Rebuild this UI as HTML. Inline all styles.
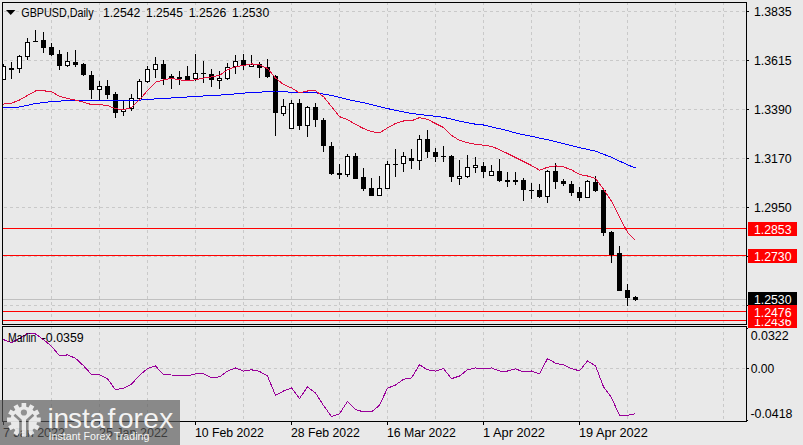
<!DOCTYPE html>
<html lang="en"><head><meta charset="utf-8"><title>GBPUSD Daily</title>
<style>
html,body{margin:0;padding:0;background:#e9e9e9;}
body{width:803px;height:445px;overflow:hidden;position:relative;}
svg{position:absolute;left:0;top:0;display:block;}
text{font-family:"Liberation Sans", sans-serif;}
</style></head><body>
<svg width="803" height="445" viewBox="0 0 803 445">
<rect x="0" y="0" width="803" height="445" fill="#e9e9e9"/>
<g shape-rendering="crispEdges" stroke="#c9c9c9" stroke-width="1" stroke-dasharray="3 3" fill="none">
<line x1="51.5" y1="3" x2="51.5" y2="324" stroke-dashoffset="1"/>
<line x1="51.5" y1="327" x2="51.5" y2="421" stroke-dashoffset="1"/>
<line x1="99.5" y1="3" x2="99.5" y2="324" stroke-dashoffset="1"/>
<line x1="99.5" y1="327" x2="99.5" y2="421" stroke-dashoffset="1"/>
<line x1="147.5" y1="3" x2="147.5" y2="324" stroke-dashoffset="1"/>
<line x1="147.5" y1="327" x2="147.5" y2="421" stroke-dashoffset="1"/>
<line x1="195.5" y1="3" x2="195.5" y2="324" stroke-dashoffset="1"/>
<line x1="195.5" y1="327" x2="195.5" y2="421" stroke-dashoffset="1"/>
<line x1="243.5" y1="3" x2="243.5" y2="324" stroke-dashoffset="1"/>
<line x1="243.5" y1="327" x2="243.5" y2="421" stroke-dashoffset="1"/>
<line x1="291.5" y1="3" x2="291.5" y2="324" stroke-dashoffset="1"/>
<line x1="291.5" y1="327" x2="291.5" y2="421" stroke-dashoffset="1"/>
<line x1="339.5" y1="3" x2="339.5" y2="324" stroke-dashoffset="1"/>
<line x1="339.5" y1="327" x2="339.5" y2="421" stroke-dashoffset="1"/>
<line x1="387.5" y1="3" x2="387.5" y2="324" stroke-dashoffset="1"/>
<line x1="387.5" y1="327" x2="387.5" y2="421" stroke-dashoffset="1"/>
<line x1="435.5" y1="3" x2="435.5" y2="324" stroke-dashoffset="1"/>
<line x1="435.5" y1="327" x2="435.5" y2="421" stroke-dashoffset="1"/>
<line x1="483.5" y1="3" x2="483.5" y2="324" stroke-dashoffset="1"/>
<line x1="483.5" y1="327" x2="483.5" y2="421" stroke-dashoffset="1"/>
<line x1="531.5" y1="3" x2="531.5" y2="324" stroke-dashoffset="1"/>
<line x1="531.5" y1="327" x2="531.5" y2="421" stroke-dashoffset="1"/>
<line x1="579.5" y1="3" x2="579.5" y2="324" stroke-dashoffset="1"/>
<line x1="579.5" y1="327" x2="579.5" y2="421" stroke-dashoffset="1"/>
<line x1="627.5" y1="3" x2="627.5" y2="324" stroke-dashoffset="1"/>
<line x1="627.5" y1="327" x2="627.5" y2="421" stroke-dashoffset="1"/>
<line x1="675.5" y1="3" x2="675.5" y2="324" stroke-dashoffset="1"/>
<line x1="675.5" y1="327" x2="675.5" y2="421" stroke-dashoffset="1"/>
<line x1="723.5" y1="3" x2="723.5" y2="324" stroke-dashoffset="1"/>
<line x1="723.5" y1="327" x2="723.5" y2="421" stroke-dashoffset="1"/>
<line x1="3" y1="11.5" x2="746" y2="11.5" stroke-dashoffset="5"/>
<line x1="3" y1="60.5" x2="746" y2="60.5" stroke-dashoffset="5"/>
<line x1="3" y1="109.5" x2="746" y2="109.5" stroke-dashoffset="5"/>
<line x1="3" y1="158.5" x2="746" y2="158.5" stroke-dashoffset="5"/>
<line x1="3" y1="207.5" x2="746" y2="207.5" stroke-dashoffset="5"/>
<line x1="3" y1="256.5" x2="746" y2="256.5" stroke-dashoffset="5"/>
<line x1="3" y1="305.5" x2="746" y2="305.5" stroke-dashoffset="5"/>
<line x1="3" y1="368.5" x2="746" y2="368.5" stroke-dashoffset="5"/>
</g>
<g shape-rendering="crispEdges">
<rect x="3" y="299" width="743" height="1" fill="#c0c0c0"/>
<rect x="3" y="228" width="743" height="1" fill="#ff0000"/>
<rect x="3" y="255" width="743" height="1" fill="#ff0000"/>
<rect x="3" y="311" width="743" height="1" fill="#ff0000"/>
<rect x="3" y="320" width="743" height="1" fill="#ff0000"/>
</g>
<clipPath id="cc"><rect x="3" y="3" width="743" height="321"/></clipPath>
<g shape-rendering="crispEdges" clip-path="url(#cc)">
<rect x="3" y="64" width="1" height="16" fill="#000"/>
<rect x="1" y="66" width="5" height="14" fill="#000"/>
<rect x="2" y="67" width="3" height="12" fill="#fff"/>
<rect x="11" y="62" width="1" height="17" fill="#000"/>
<rect x="9" y="68" width="5" height="2" fill="#000"/>
<rect x="19" y="55" width="1" height="18" fill="#000"/>
<rect x="17" y="56" width="5" height="13" fill="#000"/>
<rect x="18" y="57" width="3" height="11" fill="#fff"/>
<rect x="27" y="38" width="1" height="22" fill="#000"/>
<rect x="25" y="42" width="5" height="15" fill="#000"/>
<rect x="26" y="43" width="3" height="13" fill="#fff"/>
<rect x="35" y="30" width="1" height="12" fill="#000"/>
<rect x="33" y="41" width="5" height="1" fill="#000"/>
<rect x="43" y="32" width="1" height="21" fill="#000"/>
<rect x="41" y="40" width="5" height="8" fill="#000"/>
<rect x="51" y="43" width="1" height="13" fill="#000"/>
<rect x="49" y="47" width="5" height="8" fill="#000"/>
<rect x="59" y="50" width="1" height="20" fill="#000"/>
<rect x="57" y="54" width="5" height="12" fill="#000"/>
<rect x="67" y="52" width="1" height="15" fill="#000"/>
<rect x="65" y="61" width="5" height="5" fill="#000"/>
<rect x="66" y="62" width="3" height="3" fill="#fff"/>
<rect x="75" y="50" width="1" height="17" fill="#000"/>
<rect x="73" y="62" width="5" height="3" fill="#000"/>
<rect x="83" y="63" width="1" height="13" fill="#000"/>
<rect x="81" y="64" width="5" height="11" fill="#000"/>
<rect x="91" y="71" width="1" height="28" fill="#000"/>
<rect x="89" y="75" width="5" height="15" fill="#000"/>
<rect x="99" y="81" width="1" height="20" fill="#000"/>
<rect x="97" y="86" width="5" height="4" fill="#000"/>
<rect x="98" y="87" width="3" height="2" fill="#fff"/>
<rect x="107" y="80" width="1" height="19" fill="#000"/>
<rect x="105" y="86" width="5" height="9" fill="#000"/>
<rect x="115" y="92" width="1" height="26" fill="#000"/>
<rect x="113" y="94" width="5" height="19" fill="#000"/>
<rect x="123" y="101" width="1" height="15" fill="#000"/>
<rect x="121" y="109" width="5" height="3" fill="#000"/>
<rect x="122" y="110" width="3" height="1" fill="#fff"/>
<rect x="131" y="94" width="1" height="17" fill="#000"/>
<rect x="129" y="98" width="5" height="11" fill="#000"/>
<rect x="130" y="99" width="3" height="9" fill="#fff"/>
<rect x="139" y="79" width="1" height="21" fill="#000"/>
<rect x="137" y="81" width="5" height="18" fill="#000"/>
<rect x="138" y="82" width="3" height="16" fill="#fff"/>
<rect x="147" y="66" width="1" height="17" fill="#000"/>
<rect x="145" y="69" width="5" height="13" fill="#000"/>
<rect x="146" y="70" width="3" height="11" fill="#fff"/>
<rect x="155" y="57" width="1" height="21" fill="#000"/>
<rect x="153" y="64" width="5" height="6" fill="#000"/>
<rect x="154" y="65" width="3" height="4" fill="#fff"/>
<rect x="163" y="60" width="1" height="25" fill="#000"/>
<rect x="161" y="64" width="5" height="15" fill="#000"/>
<rect x="171" y="74" width="1" height="15" fill="#000"/>
<rect x="169" y="76" width="5" height="2" fill="#000"/>
<rect x="179" y="71" width="1" height="14" fill="#000"/>
<rect x="177" y="77" width="5" height="2" fill="#000"/>
<rect x="187" y="66" width="1" height="14" fill="#000"/>
<rect x="185" y="76" width="5" height="4" fill="#000"/>
<rect x="195" y="54" width="1" height="27" fill="#000"/>
<rect x="193" y="73" width="5" height="6" fill="#000"/>
<rect x="194" y="74" width="3" height="4" fill="#fff"/>
<rect x="203" y="61" width="1" height="22" fill="#000"/>
<rect x="201" y="73" width="5" height="1" fill="#000"/>
<rect x="211" y="69" width="1" height="18" fill="#000"/>
<rect x="209" y="74" width="5" height="6" fill="#000"/>
<rect x="219" y="71" width="1" height="18" fill="#000"/>
<rect x="217" y="78" width="5" height="3" fill="#000"/>
<rect x="218" y="79" width="3" height="1" fill="#fff"/>
<rect x="227" y="63" width="1" height="17" fill="#000"/>
<rect x="225" y="67" width="5" height="12" fill="#000"/>
<rect x="226" y="68" width="3" height="10" fill="#fff"/>
<rect x="235" y="55" width="1" height="19" fill="#000"/>
<rect x="233" y="61" width="5" height="6" fill="#000"/>
<rect x="234" y="62" width="3" height="4" fill="#fff"/>
<rect x="243" y="54" width="1" height="16" fill="#000"/>
<rect x="241" y="60" width="5" height="6" fill="#000"/>
<rect x="251" y="55" width="1" height="12" fill="#000"/>
<rect x="249" y="64" width="5" height="3" fill="#000"/>
<rect x="250" y="65" width="3" height="1" fill="#fff"/>
<rect x="259" y="62" width="1" height="16" fill="#000"/>
<rect x="257" y="64" width="5" height="4" fill="#000"/>
<rect x="267" y="59" width="1" height="19" fill="#000"/>
<rect x="265" y="67" width="5" height="10" fill="#000"/>
<rect x="275" y="75" width="1" height="61" fill="#000"/>
<rect x="273" y="76" width="5" height="37" fill="#000"/>
<rect x="283" y="99" width="1" height="17" fill="#000"/>
<rect x="281" y="106" width="5" height="8" fill="#000"/>
<rect x="282" y="107" width="3" height="6" fill="#fff"/>
<rect x="291" y="100" width="1" height="29" fill="#000"/>
<rect x="289" y="103" width="5" height="26" fill="#000"/>
<rect x="290" y="104" width="3" height="24" fill="#fff"/>
<rect x="299" y="99" width="1" height="31" fill="#000"/>
<rect x="297" y="103" width="5" height="23" fill="#000"/>
<rect x="307" y="106" width="1" height="31" fill="#000"/>
<rect x="305" y="107" width="5" height="19" fill="#000"/>
<rect x="306" y="108" width="3" height="17" fill="#fff"/>
<rect x="315" y="103" width="1" height="24" fill="#000"/>
<rect x="313" y="107" width="5" height="13" fill="#000"/>
<rect x="323" y="118" width="1" height="34" fill="#000"/>
<rect x="321" y="120" width="5" height="26" fill="#000"/>
<rect x="331" y="142" width="1" height="33" fill="#000"/>
<rect x="329" y="146" width="5" height="28" fill="#000"/>
<rect x="339" y="164" width="1" height="15" fill="#000"/>
<rect x="337" y="173" width="5" height="2" fill="#000"/>
<rect x="347" y="154" width="1" height="23" fill="#000"/>
<rect x="345" y="156" width="5" height="19" fill="#000"/>
<rect x="346" y="157" width="3" height="17" fill="#fff"/>
<rect x="355" y="153" width="1" height="26" fill="#000"/>
<rect x="353" y="156" width="5" height="23" fill="#000"/>
<rect x="363" y="168" width="1" height="23" fill="#000"/>
<rect x="361" y="177" width="5" height="12" fill="#000"/>
<rect x="371" y="178" width="1" height="18" fill="#000"/>
<rect x="369" y="188" width="5" height="8" fill="#000"/>
<rect x="379" y="176" width="1" height="20" fill="#000"/>
<rect x="377" y="188" width="5" height="8" fill="#000"/>
<rect x="378" y="189" width="3" height="6" fill="#fff"/>
<rect x="387" y="161" width="1" height="28" fill="#000"/>
<rect x="385" y="164" width="5" height="25" fill="#000"/>
<rect x="386" y="165" width="3" height="23" fill="#fff"/>
<rect x="395" y="149" width="1" height="28" fill="#000"/>
<rect x="393" y="164" width="5" height="1" fill="#000"/>
<rect x="403" y="152" width="1" height="20" fill="#000"/>
<rect x="401" y="156" width="5" height="8" fill="#000"/>
<rect x="402" y="157" width="3" height="6" fill="#fff"/>
<rect x="411" y="149" width="1" height="20" fill="#000"/>
<rect x="409" y="158" width="5" height="3" fill="#000"/>
<rect x="419" y="135" width="1" height="35" fill="#000"/>
<rect x="417" y="139" width="5" height="22" fill="#000"/>
<rect x="418" y="140" width="3" height="20" fill="#fff"/>
<rect x="427" y="130" width="1" height="28" fill="#000"/>
<rect x="425" y="139" width="5" height="13" fill="#000"/>
<rect x="435" y="148" width="1" height="14" fill="#000"/>
<rect x="433" y="152" width="5" height="5" fill="#000"/>
<rect x="443" y="146" width="1" height="16" fill="#000"/>
<rect x="441" y="156" width="5" height="1" fill="#000"/>
<rect x="451" y="155" width="1" height="27" fill="#000"/>
<rect x="449" y="156" width="5" height="21" fill="#000"/>
<rect x="459" y="160" width="1" height="25" fill="#000"/>
<rect x="457" y="176" width="5" height="3" fill="#000"/>
<rect x="458" y="177" width="3" height="1" fill="#fff"/>
<rect x="467" y="155" width="1" height="23" fill="#000"/>
<rect x="465" y="167" width="5" height="10" fill="#000"/>
<rect x="466" y="168" width="3" height="8" fill="#fff"/>
<rect x="475" y="157" width="1" height="16" fill="#000"/>
<rect x="473" y="165" width="5" height="3" fill="#000"/>
<rect x="474" y="166" width="3" height="1" fill="#fff"/>
<rect x="483" y="162" width="1" height="16" fill="#000"/>
<rect x="481" y="166" width="5" height="6" fill="#000"/>
<rect x="491" y="165" width="1" height="11" fill="#000"/>
<rect x="489" y="171" width="5" height="5" fill="#000"/>
<rect x="490" y="172" width="3" height="3" fill="#fff"/>
<rect x="499" y="159" width="1" height="23" fill="#000"/>
<rect x="497" y="171" width="5" height="10" fill="#000"/>
<rect x="507" y="172" width="1" height="15" fill="#000"/>
<rect x="505" y="180" width="5" height="2" fill="#000"/>
<rect x="515" y="172" width="1" height="13" fill="#000"/>
<rect x="513" y="180" width="5" height="2" fill="#000"/>
<rect x="523" y="178" width="1" height="23" fill="#000"/>
<rect x="521" y="180" width="5" height="10" fill="#000"/>
<rect x="531" y="183" width="1" height="16" fill="#000"/>
<rect x="529" y="190" width="5" height="1" fill="#000"/>
<rect x="539" y="184" width="1" height="14" fill="#000"/>
<rect x="537" y="190" width="5" height="7" fill="#000"/>
<rect x="547" y="170" width="1" height="33" fill="#000"/>
<rect x="545" y="171" width="5" height="26" fill="#000"/>
<rect x="546" y="172" width="3" height="24" fill="#fff"/>
<rect x="555" y="163" width="1" height="26" fill="#000"/>
<rect x="553" y="171" width="5" height="11" fill="#000"/>
<rect x="563" y="179" width="1" height="7" fill="#000"/>
<rect x="561" y="181" width="5" height="3" fill="#000"/>
<rect x="571" y="181" width="1" height="15" fill="#000"/>
<rect x="569" y="184" width="5" height="9" fill="#000"/>
<rect x="579" y="187" width="1" height="14" fill="#000"/>
<rect x="577" y="192" width="5" height="6" fill="#000"/>
<rect x="587" y="180" width="1" height="18" fill="#000"/>
<rect x="585" y="181" width="5" height="17" fill="#000"/>
<rect x="586" y="182" width="3" height="15" fill="#fff"/>
<rect x="595" y="176" width="1" height="16" fill="#000"/>
<rect x="593" y="182" width="5" height="9" fill="#000"/>
<rect x="603" y="189" width="1" height="47" fill="#000"/>
<rect x="601" y="190" width="5" height="43" fill="#000"/>
<rect x="611" y="231" width="1" height="32" fill="#000"/>
<rect x="609" y="232" width="5" height="23" fill="#000"/>
<rect x="619" y="246" width="1" height="45" fill="#000"/>
<rect x="617" y="253" width="5" height="38" fill="#000"/>
<rect x="627" y="284" width="1" height="22" fill="#000"/>
<rect x="625" y="290" width="5" height="8" fill="#000"/>
<rect x="635" y="296" width="1" height="5" fill="#000"/>
<rect x="633" y="297" width="5" height="3" fill="#000"/>
</g>
<polyline points="2.5,107.85 3.5,107.8 19.5,107 35.5,103.5 51.5,101.6 67.5,100.6 75.5,100.1 91.5,100.1 99.5,100.1 115.5,100.1 123.5,100.9 131.5,100.6 139.5,100.1 147.5,99.4 155.5,98.9 163.5,98.4 171.5,98 179.5,97.7 187.5,97 195.5,96.5 211.5,95.5 227.5,94.7 243.5,93.1 259.5,92.2 275.5,91 283.5,91.9 299.5,92.3 315.5,92.7 331.5,95.4 347.5,99.4 363.5,102.7 379.5,106.7 395.5,110.4 411.5,113.5 427.5,115.4 443.5,117.3 459.5,121.1 475.5,124.2 483.5,125 491.5,126.9 499.5,128.7 507.5,130.7 515.5,132.9 523.5,134.7 531.5,136.2 539.5,138.2 547.5,139.6 555.5,141.6 563.5,143.7 571.5,145.6 579.5,147.6 587.5,149.4 595.5,151.2 611.5,157.3 627.5,164.8 635.5,168" fill="none" stroke="#0000ff" stroke-width="1" stroke-linejoin="round" shape-rendering="crispEdges"/>
<polyline points="2.5,104.225 3.5,104.1 11.5,103.1 19.5,100.1 27.5,95.4 35.5,91 43.5,90.8 51.5,91.6 59.5,96.4 67.5,98.5 75.5,100.1 83.5,102.2 91.5,104.6 99.5,104.7 107.5,105.4 115.5,108.7 123.5,109.7 131.5,107.7 139.5,99.8 147.5,90.5 155.5,82.3 163.5,79.8 171.5,78.5 179.5,79.8 187.5,81 195.5,79.7 203.5,78.1 211.5,76.9 219.5,75.4 227.5,69.8 235.5,66.7 243.5,65.4 251.5,63.9 259.5,64.8 267.5,68.5 275.5,78 283.5,84.5 291.5,87.9 299.5,92.9 307.5,91 315.5,90.7 323.5,96.7 331.5,106.6 339.5,116.6 347.5,119.7 355.5,124.4 363.5,128.5 371.5,131.6 379.5,132.8 387.5,127.9 395.5,123.5 403.5,121 411.5,120.8 419.5,117.6 427.5,119.4 435.5,123.5 443.5,127.5 451.5,135.4 459.5,140.4 467.5,142.7 475.5,144.2 483.5,145.2 491.5,146.3 499.5,149.8 507.5,153.5 515.5,157.5 523.5,161.5 531.5,165.5 539.5,170.1 547.5,167.3 555.5,165.9 563.5,166.8 571.5,169.9 579.5,174.5 587.5,176 595.5,178.5 603.5,189.1 611.5,201.3 619.5,217.3 627.5,232.2 635.5,240.3" fill="none" stroke="#e2103c" stroke-width="1" stroke-linejoin="round" shape-rendering="crispEdges"/>
<polyline points="2.5,339.213 3.5,339.6 11.5,342.7 19.5,338.3 27.5,333.3 35.5,334 43.5,339.6 51.5,346.2 59.5,355.8 67.5,354.9 75.5,358.3 83.5,365.7 91.5,374.5 99.5,374.9 107.5,378.9 115.5,389.7 123.5,388.1 131.5,384.1 139.5,375.4 147.5,368.5 155.5,366 163.5,374.8 171.5,375 179.5,375 187.5,375.9 195.5,373.9 203.5,373.9 211.5,377.7 219.5,376.9 227.5,371.1 235.5,368 243.5,371.1 251.5,369.8 259.5,371.4 267.5,376 275.5,395.4 283.5,391 291.5,387.9 299.5,398.5 307.5,386.9 315.5,392.9 323.5,405.4 331.5,416.6 339.5,413.8 347.5,401.4 355.5,409.7 363.5,411.8 371.5,412 379.5,405.3 387.5,388.1 395.5,385.1 403.5,379.2 411.5,377.9 419.5,364.8 427.5,369.8 435.5,371.1 443.5,368.6 451.5,378.7 459.5,376 467.5,369.8 475.5,367.9 483.5,368.9 491.5,367.9 499.5,371 507.5,371 515.5,368.9 523.5,371.9 531.5,371 539.5,374 547.5,358.6 555.5,363.2 563.5,364.9 571.5,368.7 579.5,370.8 587.5,361 595.5,365.7 603.5,386.8 611.5,397.7 619.5,415.4 627.5,415.4 635.5,413.7" fill="none" stroke="#990099" stroke-width="1" stroke-linejoin="round" shape-rendering="crispEdges"/>
<g shape-rendering="crispEdges" fill="#000">
<rect x="2" y="2" width="745" height="1"/>
<rect x="2" y="2" width="1" height="323"/>
<rect x="746" y="2" width="1" height="323"/>
<rect x="2" y="324" width="745" height="1"/>
<rect x="2" y="326" width="745" height="1"/>
<rect x="2" y="326" width="1" height="96"/>
<rect x="746" y="326" width="1" height="96"/>
<rect x="2" y="421" width="745" height="1"/>
<rect x="747" y="11" width="2" height="1"/>
<rect x="747" y="60" width="2" height="1"/>
<rect x="747" y="109" width="2" height="1"/>
<rect x="747" y="158" width="2" height="1"/>
<rect x="747" y="207" width="2" height="1"/>
<rect x="747" y="256" width="2" height="1"/>
<rect x="747" y="305" width="2" height="1"/>
<rect x="747" y="368" width="2" height="1"/>
<rect x="747" y="328" width="1" height="1"/>
<rect x="747" y="420" width="1" height="1"/>
<rect x="3" y="422" width="1" height="3"/>
<rect x="99" y="422" width="1" height="3"/>
<rect x="195" y="422" width="1" height="3"/>
<rect x="291" y="422" width="1" height="3"/>
<rect x="387" y="422" width="1" height="3"/>
<rect x="483" y="422" width="1" height="3"/>
<rect x="579" y="422" width="1" height="3"/>
</g>
<path d="M6 10 L15.4 10 L10.7 15 Z" fill="#000"/>
<text x="21.3" y="16.80" font-size="12.3px" fill="#000" text-anchor="start" textLength="72.3" lengthAdjust="spacingAndGlyphs">GBPUSD,Daily</text>
<text x="102.9" y="16.80" font-size="12.3px" fill="#000" text-anchor="start" textLength="37.5" lengthAdjust="spacingAndGlyphs">1.2542</text>
<text x="146.1" y="16.80" font-size="12.3px" fill="#000" text-anchor="start" textLength="36.8" lengthAdjust="spacingAndGlyphs">1.2545</text>
<text x="188.8" y="16.80" font-size="12.3px" fill="#000" text-anchor="start" textLength="37.5" lengthAdjust="spacingAndGlyphs">1.2526</text>
<text x="231.9" y="16.80" font-size="12.3px" fill="#000" text-anchor="start" textLength="37.3" lengthAdjust="spacingAndGlyphs">1.2530</text>
<text x="753.9" y="16.30" font-size="12.3px" fill="#000" text-anchor="start" textLength="37.8" lengthAdjust="spacingAndGlyphs">1.3835</text>
<text x="753.9" y="65.30" font-size="12.3px" fill="#000" text-anchor="start" textLength="37.8" lengthAdjust="spacingAndGlyphs">1.3615</text>
<text x="753.9" y="114.30" font-size="12.3px" fill="#000" text-anchor="start" textLength="37.8" lengthAdjust="spacingAndGlyphs">1.3390</text>
<text x="753.9" y="163.30" font-size="12.3px" fill="#000" text-anchor="start" textLength="37.8" lengthAdjust="spacingAndGlyphs">1.3170</text>
<text x="753.9" y="212.30" font-size="12.3px" fill="#000" text-anchor="start" textLength="37.8" lengthAdjust="spacingAndGlyphs">1.2950</text>
<g shape-rendering="crispEdges">
<rect x="748" y="314" width="49" height="14" fill="#ff0000"/>
</g>
<text x="753.9" y="325.70" font-size="12.3px" fill="#fff" text-anchor="start" textLength="37.6" lengthAdjust="spacingAndGlyphs">1.2436</text>
<g shape-rendering="crispEdges">
<rect x="748" y="292" width="49" height="14" fill="#000"/>
<rect x="748" y="305" width="49" height="14" fill="#ff0000"/>
<rect x="748" y="222" width="49" height="14" fill="#ff0000"/>
<rect x="748" y="249" width="49" height="14" fill="#ff0000"/>
</g>
<text x="753.9" y="304.20" font-size="12.3px" fill="#fff" text-anchor="start" textLength="37.6" lengthAdjust="spacingAndGlyphs">1.2530</text>
<text x="753.9" y="317.00" font-size="12.3px" fill="#fff" text-anchor="start" textLength="37.6" lengthAdjust="spacingAndGlyphs">1.2476</text>
<text x="753.9" y="234.00" font-size="12.3px" fill="#fff" text-anchor="start" textLength="37.6" lengthAdjust="spacingAndGlyphs">1.2853</text>
<text x="753.9" y="261.00" font-size="12.3px" fill="#fff" text-anchor="start" textLength="37.6" lengthAdjust="spacingAndGlyphs">1.2730</text>
<text x="750.7" y="339.90" font-size="12.3px" fill="#000" text-anchor="start" textLength="38" lengthAdjust="spacingAndGlyphs">0.0322</text>
<text x="750.7" y="373.00" font-size="12.3px" fill="#000" text-anchor="start" textLength="23.6" lengthAdjust="spacingAndGlyphs">0.00</text>
<text x="750.4" y="417.90" font-size="12.3px" fill="#000" text-anchor="start" textLength="42.1" lengthAdjust="spacingAndGlyphs">-0.0418</text>
<text x="8.1" y="341.60" font-size="12.3px" fill="#000" text-anchor="start" textLength="28.3" lengthAdjust="spacingAndGlyphs">Marlin</text>
<text x="41.7" y="341.60" font-size="12.3px" fill="#000" text-anchor="start" textLength="42" lengthAdjust="spacingAndGlyphs">-0.0359</text>
<text x="3" y="437.00" font-size="12.3px" fill="#000" text-anchor="start" textLength="62" lengthAdjust="spacingAndGlyphs">7 Jan 2022</text>
<text x="99" y="437.00" font-size="12.3px" fill="#000" text-anchor="start" textLength="68.8" lengthAdjust="spacingAndGlyphs">25 Jan 2022</text>
<text x="195" y="437.00" font-size="12.3px" fill="#000" text-anchor="start" textLength="68.8" lengthAdjust="spacingAndGlyphs">10 Feb 2022</text>
<text x="291" y="437.00" font-size="12.3px" fill="#000" text-anchor="start" textLength="68.8" lengthAdjust="spacingAndGlyphs">28 Feb 2022</text>
<text x="387" y="437.00" font-size="12.3px" fill="#000" text-anchor="start" textLength="68.8" lengthAdjust="spacingAndGlyphs">16 Mar 2022</text>
<text x="483" y="437.00" font-size="12.3px" fill="#000" text-anchor="start" textLength="62" lengthAdjust="spacingAndGlyphs">1 Apr 2022</text>
<text x="579" y="437.00" font-size="12.3px" fill="#000" text-anchor="start" textLength="68.8" lengthAdjust="spacingAndGlyphs">19 Apr 2022</text>
<rect x="0" y="400" width="180" height="45" fill="#5a5a5a" fill-opacity="0.67"/>
<g fill="#fff" fill-opacity="0.9">
<clipPath id="wm"><rect x="0" y="400" width="180" height="38"/></clipPath>
<g clip-path="url(#wm)">
<mask id="gm"><rect x="0" y="395" width="60" height="50" fill="#fff"/><circle cx="23.9" cy="412.5" r="3.1" fill="#000"/><path d="M14.4 414.7 L20.5 420.4 L20.5 437.9" stroke="#000" stroke-width="2.6" fill="none"/><path d="M33.4 414.7 L27.3 420.4 L27.3 437.9" stroke="#000" stroke-width="2.6" fill="none"/></mask>
<path d="M21.54 406.81 L21.59 403.06 L26.21 403.06 L26.26 406.81 L28.41 407.39 L30.32 404.16 L34.32 406.47 L32.48 409.74 L34.06 411.32 L37.33 409.48 L39.64 413.48 L36.41 415.39 L36.99 417.54 L40.74 417.59 L40.74 422.21 L36.99 422.26 L36.41 424.41 L39.64 426.32 L37.33 430.32 L34.06 428.48 L32.48 430.06 L34.32 433.33 L30.32 435.64 L28.41 432.41 L26.26 432.99 L26.21 436.74 L21.59 436.74 L21.54 432.99 L19.39 432.41 L17.48 435.64 L13.48 433.33 L15.32 430.06 L13.74 428.48 L10.47 430.32 L8.16 426.32 L11.39 424.41 L10.81 422.26 L7.06 422.21 L7.06 417.59 L10.81 417.54 L11.39 415.39 L8.16 413.48 L10.47 409.48 L13.74 411.32 L15.32 409.74 L13.48 406.47 L17.48 404.16 L19.39 407.39 Z" mask="url(#gm)"/>
</g></g>
<text x="47.4 53.6 68.0 82.1 89.6 107.4 118.0 133.5 143.2 159.2" y="428.2" font-size="28px" fill="#fff" fill-opacity="0.93">instaforex</text>
<text x="48.5" y="440" font-size="10.5px" fill="#fff" text-anchor="start" textLength="101" lengthAdjust="spacingAndGlyphs" fill-opacity="0.95">Instant Forex Trading</text>
</svg>
</body></html>
